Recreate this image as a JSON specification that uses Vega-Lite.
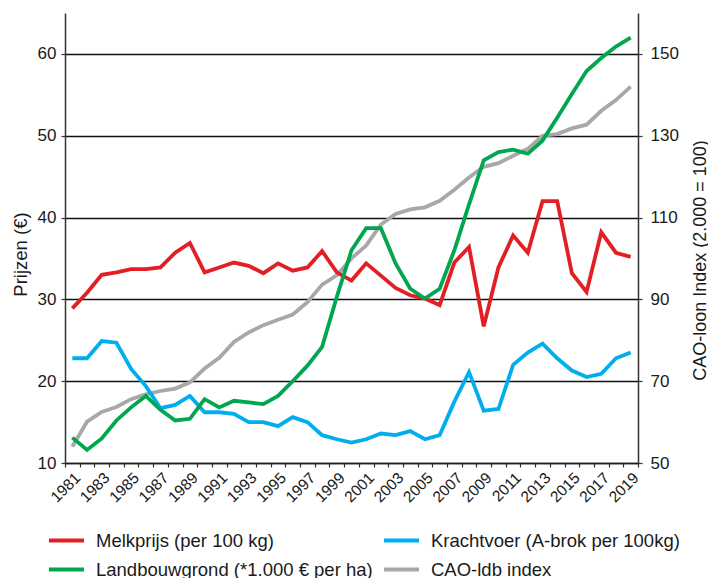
{
  "$schema": "https://vega.github.io/schema/vega-lite/v6.json",
  "width": 573,
  "height": 450,
  "autosize": {"type": "none"},
  "padding": {"left": 65, "top": 13, "right": 70, "bottom": 115},
  "background": "white",
  "config": {
    "view": {"stroke": null},
    "font": "Liberation Sans",
    "axis": {
      "labelFont": "Liberation Sans",
      "titleFont": "Liberation Sans",
      "labelColor": "#1a1a1a",
      "titleColor": "#1a1a1a",
      "titleFontWeight": "normal",
      "domainColor": "#333333",
      "domainWidth": 1.5,
      "tickColor": "#333333",
      "tickWidth": 1.2,
      "tickSize": 4
    },
    "legend": {"labelFont": "Liberation Sans"}
  },
  "datasets": {
    "prijzen": [
      {"jaar": 1981, "serie": "Melkprijs (per 100 kg)", "waarde": 28.9},
      {"jaar": 1982, "serie": "Melkprijs (per 100 kg)", "waarde": 30.8},
      {"jaar": 1983, "serie": "Melkprijs (per 100 kg)", "waarde": 33.0},
      {"jaar": 1984, "serie": "Melkprijs (per 100 kg)", "waarde": 33.3},
      {"jaar": 1985, "serie": "Melkprijs (per 100 kg)", "waarde": 33.7},
      {"jaar": 1986, "serie": "Melkprijs (per 100 kg)", "waarde": 33.7},
      {"jaar": 1987, "serie": "Melkprijs (per 100 kg)", "waarde": 33.9},
      {"jaar": 1988, "serie": "Melkprijs (per 100 kg)", "waarde": 35.7},
      {"jaar": 1989, "serie": "Melkprijs (per 100 kg)", "waarde": 36.9},
      {"jaar": 1990, "serie": "Melkprijs (per 100 kg)", "waarde": 33.3},
      {"jaar": 1991, "serie": "Melkprijs (per 100 kg)", "waarde": 33.9},
      {"jaar": 1992, "serie": "Melkprijs (per 100 kg)", "waarde": 34.5},
      {"jaar": 1993, "serie": "Melkprijs (per 100 kg)", "waarde": 34.1},
      {"jaar": 1994, "serie": "Melkprijs (per 100 kg)", "waarde": 33.2},
      {"jaar": 1995, "serie": "Melkprijs (per 100 kg)", "waarde": 34.4},
      {"jaar": 1996, "serie": "Melkprijs (per 100 kg)", "waarde": 33.5},
      {"jaar": 1997, "serie": "Melkprijs (per 100 kg)", "waarde": 33.9},
      {"jaar": 1998, "serie": "Melkprijs (per 100 kg)", "waarde": 35.9},
      {"jaar": 1999, "serie": "Melkprijs (per 100 kg)", "waarde": 33.3},
      {"jaar": 2000, "serie": "Melkprijs (per 100 kg)", "waarde": 32.3},
      {"jaar": 2001, "serie": "Melkprijs (per 100 kg)", "waarde": 34.4},
      {"jaar": 2002, "serie": "Melkprijs (per 100 kg)", "waarde": 32.9},
      {"jaar": 2003, "serie": "Melkprijs (per 100 kg)", "waarde": 31.4},
      {"jaar": 2004, "serie": "Melkprijs (per 100 kg)", "waarde": 30.5},
      {"jaar": 2005, "serie": "Melkprijs (per 100 kg)", "waarde": 30.1},
      {"jaar": 2006, "serie": "Melkprijs (per 100 kg)", "waarde": 29.3},
      {"jaar": 2007, "serie": "Melkprijs (per 100 kg)", "waarde": 34.5},
      {"jaar": 2008, "serie": "Melkprijs (per 100 kg)", "waarde": 36.4},
      {"jaar": 2009, "serie": "Melkprijs (per 100 kg)", "waarde": 26.7},
      {"jaar": 2010, "serie": "Melkprijs (per 100 kg)", "waarde": 33.9},
      {"jaar": 2011, "serie": "Melkprijs (per 100 kg)", "waarde": 37.8},
      {"jaar": 2012, "serie": "Melkprijs (per 100 kg)", "waarde": 35.7},
      {"jaar": 2013, "serie": "Melkprijs (per 100 kg)", "waarde": 42.0},
      {"jaar": 2014, "serie": "Melkprijs (per 100 kg)", "waarde": 42.0},
      {"jaar": 2015, "serie": "Melkprijs (per 100 kg)", "waarde": 33.2},
      {"jaar": 2016, "serie": "Melkprijs (per 100 kg)", "waarde": 30.9},
      {"jaar": 2017, "serie": "Melkprijs (per 100 kg)", "waarde": 38.2},
      {"jaar": 2018, "serie": "Melkprijs (per 100 kg)", "waarde": 35.7},
      {"jaar": 2019, "serie": "Melkprijs (per 100 kg)", "waarde": 35.2},
      {"jaar": 1981, "serie": "Krachtvoer (A-brok per 100kg)", "waarde": 22.8},
      {"jaar": 1982, "serie": "Krachtvoer (A-brok per 100kg)", "waarde": 22.8},
      {"jaar": 1983, "serie": "Krachtvoer (A-brok per 100kg)", "waarde": 24.9},
      {"jaar": 1984, "serie": "Krachtvoer (A-brok per 100kg)", "waarde": 24.7},
      {"jaar": 1985, "serie": "Krachtvoer (A-brok per 100kg)", "waarde": 21.5},
      {"jaar": 1986, "serie": "Krachtvoer (A-brok per 100kg)", "waarde": 19.4},
      {"jaar": 1987, "serie": "Krachtvoer (A-brok per 100kg)", "waarde": 16.7},
      {"jaar": 1988, "serie": "Krachtvoer (A-brok per 100kg)", "waarde": 17.1},
      {"jaar": 1989, "serie": "Krachtvoer (A-brok per 100kg)", "waarde": 18.2},
      {"jaar": 1990, "serie": "Krachtvoer (A-brok per 100kg)", "waarde": 16.2},
      {"jaar": 1991, "serie": "Krachtvoer (A-brok per 100kg)", "waarde": 16.2},
      {"jaar": 1992, "serie": "Krachtvoer (A-brok per 100kg)", "waarde": 16.0},
      {"jaar": 1993, "serie": "Krachtvoer (A-brok per 100kg)", "waarde": 15.0},
      {"jaar": 1994, "serie": "Krachtvoer (A-brok per 100kg)", "waarde": 15.0},
      {"jaar": 1995, "serie": "Krachtvoer (A-brok per 100kg)", "waarde": 14.5},
      {"jaar": 1996, "serie": "Krachtvoer (A-brok per 100kg)", "waarde": 15.6},
      {"jaar": 1997, "serie": "Krachtvoer (A-brok per 100kg)", "waarde": 15.0},
      {"jaar": 1998, "serie": "Krachtvoer (A-brok per 100kg)", "waarde": 13.4},
      {"jaar": 1999, "serie": "Krachtvoer (A-brok per 100kg)", "waarde": 12.9},
      {"jaar": 2000, "serie": "Krachtvoer (A-brok per 100kg)", "waarde": 12.5},
      {"jaar": 2001, "serie": "Krachtvoer (A-brok per 100kg)", "waarde": 12.9},
      {"jaar": 2002, "serie": "Krachtvoer (A-brok per 100kg)", "waarde": 13.6},
      {"jaar": 2003, "serie": "Krachtvoer (A-brok per 100kg)", "waarde": 13.4},
      {"jaar": 2004, "serie": "Krachtvoer (A-brok per 100kg)", "waarde": 13.9},
      {"jaar": 2005, "serie": "Krachtvoer (A-brok per 100kg)", "waarde": 12.9},
      {"jaar": 2006, "serie": "Krachtvoer (A-brok per 100kg)", "waarde": 13.4},
      {"jaar": 2007, "serie": "Krachtvoer (A-brok per 100kg)", "waarde": 17.5},
      {"jaar": 2008, "serie": "Krachtvoer (A-brok per 100kg)", "waarde": 21.1},
      {"jaar": 2009, "serie": "Krachtvoer (A-brok per 100kg)", "waarde": 16.4},
      {"jaar": 2010, "serie": "Krachtvoer (A-brok per 100kg)", "waarde": 16.6},
      {"jaar": 2011, "serie": "Krachtvoer (A-brok per 100kg)", "waarde": 22.0},
      {"jaar": 2012, "serie": "Krachtvoer (A-brok per 100kg)", "waarde": 23.5},
      {"jaar": 2013, "serie": "Krachtvoer (A-brok per 100kg)", "waarde": 24.6},
      {"jaar": 2014, "serie": "Krachtvoer (A-brok per 100kg)", "waarde": 22.8},
      {"jaar": 2015, "serie": "Krachtvoer (A-brok per 100kg)", "waarde": 21.3},
      {"jaar": 2016, "serie": "Krachtvoer (A-brok per 100kg)", "waarde": 20.5},
      {"jaar": 2017, "serie": "Krachtvoer (A-brok per 100kg)", "waarde": 20.9},
      {"jaar": 2018, "serie": "Krachtvoer (A-brok per 100kg)", "waarde": 22.8},
      {"jaar": 2019, "serie": "Krachtvoer (A-brok per 100kg)", "waarde": 23.5},
      {"jaar": 1981, "serie": "Landbouwgrond (*1.000 € per ha)", "waarde": 13.1},
      {"jaar": 1982, "serie": "Landbouwgrond (*1.000 € per ha)", "waarde": 11.6},
      {"jaar": 1983, "serie": "Landbouwgrond (*1.000 € per ha)", "waarde": 13.0},
      {"jaar": 1984, "serie": "Landbouwgrond (*1.000 € per ha)", "waarde": 15.2},
      {"jaar": 1985, "serie": "Landbouwgrond (*1.000 € per ha)", "waarde": 16.8},
      {"jaar": 1986, "serie": "Landbouwgrond (*1.000 € per ha)", "waarde": 18.2},
      {"jaar": 1987, "serie": "Landbouwgrond (*1.000 € per ha)", "waarde": 16.5},
      {"jaar": 1988, "serie": "Landbouwgrond (*1.000 € per ha)", "waarde": 15.2},
      {"jaar": 1989, "serie": "Landbouwgrond (*1.000 € per ha)", "waarde": 15.4},
      {"jaar": 1990, "serie": "Landbouwgrond (*1.000 € per ha)", "waarde": 17.8},
      {"jaar": 1991, "serie": "Landbouwgrond (*1.000 € per ha)", "waarde": 16.8},
      {"jaar": 1992, "serie": "Landbouwgrond (*1.000 € per ha)", "waarde": 17.6},
      {"jaar": 1993, "serie": "Landbouwgrond (*1.000 € per ha)", "waarde": 17.4},
      {"jaar": 1994, "serie": "Landbouwgrond (*1.000 € per ha)", "waarde": 17.2},
      {"jaar": 1995, "serie": "Landbouwgrond (*1.000 € per ha)", "waarde": 18.2},
      {"jaar": 1996, "serie": "Landbouwgrond (*1.000 € per ha)", "waarde": 20.0},
      {"jaar": 1997, "serie": "Landbouwgrond (*1.000 € per ha)", "waarde": 21.9},
      {"jaar": 1998, "serie": "Landbouwgrond (*1.000 € per ha)", "waarde": 24.2},
      {"jaar": 1999, "serie": "Landbouwgrond (*1.000 € per ha)", "waarde": 30.3},
      {"jaar": 2000, "serie": "Landbouwgrond (*1.000 € per ha)", "waarde": 36.0},
      {"jaar": 2001, "serie": "Landbouwgrond (*1.000 € per ha)", "waarde": 38.7},
      {"jaar": 2002, "serie": "Landbouwgrond (*1.000 € per ha)", "waarde": 38.7},
      {"jaar": 2003, "serie": "Landbouwgrond (*1.000 € per ha)", "waarde": 34.4},
      {"jaar": 2004, "serie": "Landbouwgrond (*1.000 € per ha)", "waarde": 31.3},
      {"jaar": 2005, "serie": "Landbouwgrond (*1.000 € per ha)", "waarde": 30.1},
      {"jaar": 2006, "serie": "Landbouwgrond (*1.000 € per ha)", "waarde": 31.3},
      {"jaar": 2007, "serie": "Landbouwgrond (*1.000 € per ha)", "waarde": 36.0},
      {"jaar": 2008, "serie": "Landbouwgrond (*1.000 € per ha)", "waarde": 41.6},
      {"jaar": 2009, "serie": "Landbouwgrond (*1.000 € per ha)", "waarde": 47.0},
      {"jaar": 2010, "serie": "Landbouwgrond (*1.000 € per ha)", "waarde": 48.0},
      {"jaar": 2011, "serie": "Landbouwgrond (*1.000 € per ha)", "waarde": 48.3},
      {"jaar": 2012, "serie": "Landbouwgrond (*1.000 € per ha)", "waarde": 47.8},
      {"jaar": 2013, "serie": "Landbouwgrond (*1.000 € per ha)", "waarde": 49.4},
      {"jaar": 2014, "serie": "Landbouwgrond (*1.000 € per ha)", "waarde": 52.2},
      {"jaar": 2015, "serie": "Landbouwgrond (*1.000 € per ha)", "waarde": 55.1},
      {"jaar": 2016, "serie": "Landbouwgrond (*1.000 € per ha)", "waarde": 57.9},
      {"jaar": 2017, "serie": "Landbouwgrond (*1.000 € per ha)", "waarde": 59.5},
      {"jaar": 2018, "serie": "Landbouwgrond (*1.000 € per ha)", "waarde": 60.9},
      {"jaar": 2019, "serie": "Landbouwgrond (*1.000 € per ha)", "waarde": 62.0}
    ],
    "index": [
      {"jaar": 1981, "serie": "CAO-ldb index", "waarde": 54.0},
      {"jaar": 1982, "serie": "CAO-ldb index", "waarde": 60.1},
      {"jaar": 1983, "serie": "CAO-ldb index", "waarde": 62.5},
      {"jaar": 1984, "serie": "CAO-ldb index", "waarde": 63.7},
      {"jaar": 1985, "serie": "CAO-ldb index", "waarde": 65.6},
      {"jaar": 1986, "serie": "CAO-ldb index", "waarde": 66.8},
      {"jaar": 1987, "serie": "CAO-ldb index", "waarde": 67.6},
      {"jaar": 1988, "serie": "CAO-ldb index", "waarde": 68.2},
      {"jaar": 1989, "serie": "CAO-ldb index", "waarde": 69.7},
      {"jaar": 1990, "serie": "CAO-ldb index", "waarde": 73.1},
      {"jaar": 1991, "serie": "CAO-ldb index", "waarde": 75.7},
      {"jaar": 1992, "serie": "CAO-ldb index", "waarde": 79.6},
      {"jaar": 1993, "serie": "CAO-ldb index", "waarde": 81.9},
      {"jaar": 1994, "serie": "CAO-ldb index", "waarde": 83.7},
      {"jaar": 1995, "serie": "CAO-ldb index", "waarde": 85.0},
      {"jaar": 1996, "serie": "CAO-ldb index", "waarde": 86.3},
      {"jaar": 1997, "serie": "CAO-ldb index", "waarde": 89.3},
      {"jaar": 1998, "serie": "CAO-ldb index", "waarde": 93.6},
      {"jaar": 1999, "serie": "CAO-ldb index", "waarde": 95.9},
      {"jaar": 2000, "serie": "CAO-ldb index", "waarde": 100.0},
      {"jaar": 2001, "serie": "CAO-ldb index", "waarde": 103.2},
      {"jaar": 2002, "serie": "CAO-ldb index", "waarde": 108.3},
      {"jaar": 2003, "serie": "CAO-ldb index", "waarde": 110.9},
      {"jaar": 2004, "serie": "CAO-ldb index", "waarde": 112.0},
      {"jaar": 2005, "serie": "CAO-ldb index", "waarde": 112.5},
      {"jaar": 2006, "serie": "CAO-ldb index", "waarde": 114.1},
      {"jaar": 2007, "serie": "CAO-ldb index", "waarde": 116.8},
      {"jaar": 2008, "serie": "CAO-ldb index", "waarde": 119.8},
      {"jaar": 2009, "serie": "CAO-ldb index", "waarde": 122.4},
      {"jaar": 2010, "serie": "CAO-ldb index", "waarde": 123.3},
      {"jaar": 2011, "serie": "CAO-ldb index", "waarde": 125.1},
      {"jaar": 2012, "serie": "CAO-ldb index", "waarde": 126.8},
      {"jaar": 2013, "serie": "CAO-ldb index", "waarde": 130.0},
      {"jaar": 2014, "serie": "CAO-ldb index", "waarde": 130.4},
      {"jaar": 2015, "serie": "CAO-ldb index", "waarde": 131.8},
      {"jaar": 2016, "serie": "CAO-ldb index", "waarde": 132.7},
      {"jaar": 2017, "serie": "CAO-ldb index", "waarde": 136.1},
      {"jaar": 2018, "serie": "CAO-ldb index", "waarde": 138.7},
      {"jaar": 2019, "serie": "CAO-ldb index", "waarde": 142.0}
    ]
  },
  "encoding": {
    "x": {
      "field": "jaar",
      "type": "ordinal",
      "scale": {"type": "band", "paddingInner": 0, "paddingOuter": 0},
      "axis": {
        "title": null,
        "tickBand": "extent",
        "labelExpr": "datum.value % 2 == 1 ? datum.label : ''",
        "labelAngle": 315,
        "labelAlign": "right",
        "labelBaseline": "top",
        "labelFontSize": 15.5,
        "labelPadding": 3,
        "domainColor": "#222222",
        "grid": false
      }
    },
    "color": {
      "field": "serie",
      "type": "nominal",
      "scale": {
        "domain": ["Melkprijs (per 100 kg)", "Krachtvoer (A-brok per 100kg)", "Landbouwgrond (*1.000 € per ha)", "CAO-ldb index"],
        "range": ["#E31E24", "#00AEEF", "#00A650", "#A8A8A8"]
      },
      "legend": {
        "title": null,
        "orient": "none",
        "direction": "horizontal",
        "legendX": -18,
        "legendY": 508,
        "columns": 2,
        "symbolType": "stroke",
        "symbolSize": 1225,
        "symbolStrokeWidth": 4,
        "labelFontSize": 18.5,
        "labelColor": "#1a1a1a",
        "labelOffset": 10,
        "labelLimit": 400,
        "columnPadding": 3,
        "rowPadding": -5,
        "padding": 0
      }
    }
  },
  "layer": [
    {
      "data": {"name": "index"},
      "mark": {"type": "line", "strokeWidth": 3.8, "strokeJoin": "miter"},
      "encoding": {
        "y": {
          "field": "waarde",
          "type": "quantitative",
          "scale": {"domain": [50, 160], "nice": false, "zero": false},
          "axis": {
            "orient": "right",
            "values": [50, 70, 90, 110, 130, 150],
            "title": "CAO-loon Index (2.000 = 100)",
            "titleFontSize": 18,
            "titleAngle": 270,
            "titleAlign": "center",
            "titleBaseline": "alphabetic",
            "titleX": 67,
            "titleY": 247,
            "labelFontSize": 17,
            "labelPadding": 8,
            "grid": false
          }
        }
      }
    },
    {
      "data": {"name": "prijzen"},
      "mark": {"type": "line", "strokeWidth": 3.8, "strokeJoin": "miter"},
      "encoding": {
        "y": {
          "field": "waarde",
          "type": "quantitative",
          "scale": {"domain": [10, 65], "nice": false, "zero": false},
          "axis": {
            "orient": "left",
            "values": [10, 20, 30, 40, 50, 60],
            "title": "Prijzen (€)",
            "titleFontSize": 18.5,
            "titleAngle": 270,
            "titleAlign": "center",
            "titleBaseline": "alphabetic",
            "titleX": -39,
            "titleY": 241,
            "labelFontSize": 17,
            "labelPadding": 5,
            "grid": true,
            "gridColor": "#111111",
            "gridWidth": 1.5,
            "gridOpacity": 1
          }
        }
      }
    }
  ],
  "resolve": {"scale": {"y": "independent"}, "axis": {"y": "independent"}}
}
